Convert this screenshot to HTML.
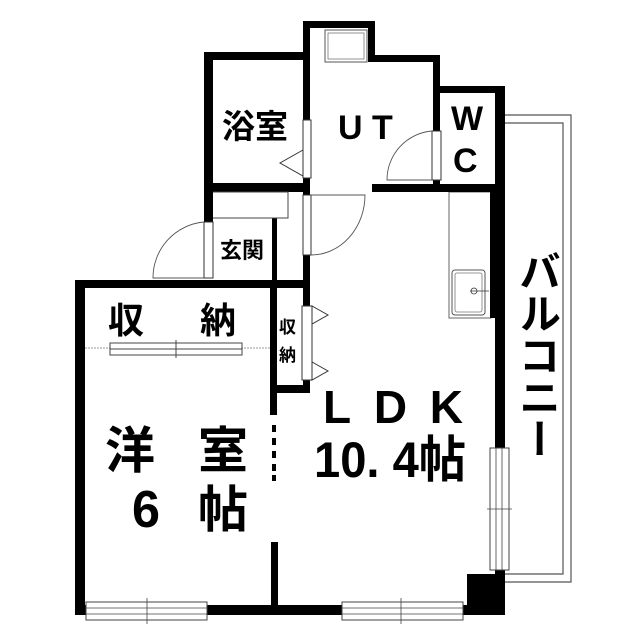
<!DOCTYPE html>
<html><head><meta charset="utf-8"><style>
html,body{margin:0;padding:0;background:#fff}
svg{display:block}
text{font-family:"Liberation Sans","Noto Sans CJK JP",sans-serif;fill:#000;font-weight:bold}
</style></head><body>
<svg width="640" height="640" viewBox="0 0 640 640" xmlns="http://www.w3.org/2000/svg">
<path d="M504 115 H571 V582 H504" fill="none" stroke="#555" stroke-width="1.2"/>
<path d="M504 123 H563 V574 H504" fill="none" stroke="#555" stroke-width="1.2"/>
<rect x="449" y="192" width="42" height="126" fill="#fff" stroke="#666" stroke-width="1"/>
<rect x="452" y="270" width="33" height="45" rx="3" fill="#fff" stroke="#555" stroke-width="1"/>
<rect x="455" y="273" width="27" height="39" rx="2" fill="none" stroke="#777" stroke-width="0.8"/>
<circle cx="474" cy="291" r="3" fill="none" stroke="#333" stroke-width="0.8"/>
<line x1="470" y1="291" x2="489" y2="291" stroke="#333" stroke-width="0.8"/>
<rect x="325" y="30" width="42" height="32" fill="#fff" stroke="#555" stroke-width="1"/>
<rect x="328" y="33" width="36" height="26" fill="none" stroke="#777" stroke-width="0.8"/>
<g fill="#000">
<rect x="303" y="21" width="72" height="7"/>
<rect x="368" y="21" width="7" height="41"/>
<rect x="368" y="55" width="72" height="7"/>
<rect x="303" y="21" width="7" height="99"/>
<rect x="303" y="178" width="7" height="17"/>
<rect x="204" y="52" width="106" height="8"/>
<rect x="204" y="52" width="9" height="170"/>
<rect x="204" y="183" width="106" height="9"/>
<rect x="433" y="55" width="7" height="76"/>
<rect x="433" y="180" width="7" height="10"/>
<rect x="433" y="86" width="71" height="7"/>
<rect x="495" y="86" width="10" height="362"/>
<rect x="490" y="192" width="15" height="126"/>
<rect x="372" y="184" width="133" height="8"/>
<rect x="303" y="255" width="7" height="138"/>
<rect x="272" y="218" width="5" height="70"/>
<rect x="75" y="280" width="235" height="8"/>
<rect x="75" y="280" width="10" height="334"/>
<rect x="75" y="605" width="392" height="10"/>
<rect x="270" y="280" width="7" height="135"/>
<rect x="270" y="385" width="40" height="8"/>
<rect x="271" y="542" width="7" height="66"/>
<rect x="272" y="425" width="4" height="7"/>
<rect x="272" y="438" width="4" height="7"/>
<rect x="272" y="451" width="4" height="7"/>
<rect x="272" y="464" width="4" height="7"/>
<rect x="272" y="475" width="4" height="6"/>
<rect x="467" y="574" width="38" height="41"/>
<rect x="495" y="568" width="10" height="10"/>
</g>
<path d="M213 192 H288 V218 H213" fill="none" stroke="#444" stroke-width="1"/>
<g fill="#fff" stroke="#333" stroke-width="1">
<rect x="303" y="120" width="8" height="58"/>
<polygon points="303,150 280,163 303,176"/>
<rect x="432" y="131" width="9" height="49"/>
<rect x="303" y="195" width="8" height="60"/>
<rect x="204" y="222" width="9" height="56"/>
<rect x="302" y="306" width="10" height="74"/>
<polygon points="312,306 328,315 312,324"/>
<polygon points="312,362 328,371 312,380"/>
</g>
<g fill="none" stroke="#555" stroke-width="0.9">
<path d="M432 131 A49 49 0 0 0 387 180 H432"/>
<path d="M311 195 H365 A54 60 0 0 1 311 255"/>
<path d="M204 222 A56 56 0 0 0 153 278 H204"/>
</g>
<line x1="85" y1="348" x2="270" y2="348" stroke="#999" stroke-width="1" stroke-dasharray="2,1"/>
<rect x="110" y="343" width="132" height="6" fill="#fff" stroke="#444" stroke-width="1"/>
<rect x="110" y="349" width="132" height="6" fill="#fff" stroke="#444" stroke-width="1"/>
<line x1="176" y1="340" x2="176" y2="358" stroke="#444"/>
<g fill="#fff" stroke="#444" stroke-width="1">
<rect x="86" y="602" width="121" height="18"/>
<rect x="342" y="602" width="121" height="18"/>
<rect x="490" y="448" width="19" height="122"/>
</g>
<g stroke="#444" stroke-width="0.8">
<line x1="86" y1="608" x2="207" y2="608"/><line x1="86" y1="614" x2="207" y2="614"/>
<line x1="147" y1="598" x2="147" y2="624"/>
<line x1="342" y1="608" x2="463" y2="608"/><line x1="342" y1="614" x2="463" y2="614"/>
<line x1="401" y1="598" x2="401" y2="624"/>
<line x1="496" y1="448" x2="496" y2="570"/><line x1="502" y1="448" x2="502" y2="570"/>
<line x1="487" y1="509" x2="512" y2="509"/>
</g>
<text x="222" y="138" font-size="33">浴室</text>
<text x="338" y="139" font-size="34">U T</text>
<text x="451" y="130" font-size="34">W</text>
<text x="453" y="172" font-size="34">C</text>
<text x="220" y="258" font-size="22">玄関</text>
<text x="108" y="333" font-size="36">収</text>
<text x="200" y="333" font-size="36">納</text>
<text x="279" y="333" font-size="17" font-weight="normal">収</text>
<text x="279" y="361" font-size="17" font-weight="normal">納</text>
<text x="105" y="468" font-size="50">洋</text>
<text x="198" y="468" font-size="50">室</text>
<text x="132" y="527" font-size="52" textLength="28" lengthAdjust="spacingAndGlyphs">6</text>
<text x="198" y="527" font-size="50">帖</text>
<text x="323" y="423" font-size="46" textLength="140" lengthAdjust="spacing">LDK</text>
<text x="314" y="477" font-size="50" textLength="152" lengthAdjust="spacingAndGlyphs">10. 4帖</text>
<text x="537" y="250" font-size="42" writing-mode="tb" text-anchor="start">バルコニー</text>
</svg>
</body></html>
